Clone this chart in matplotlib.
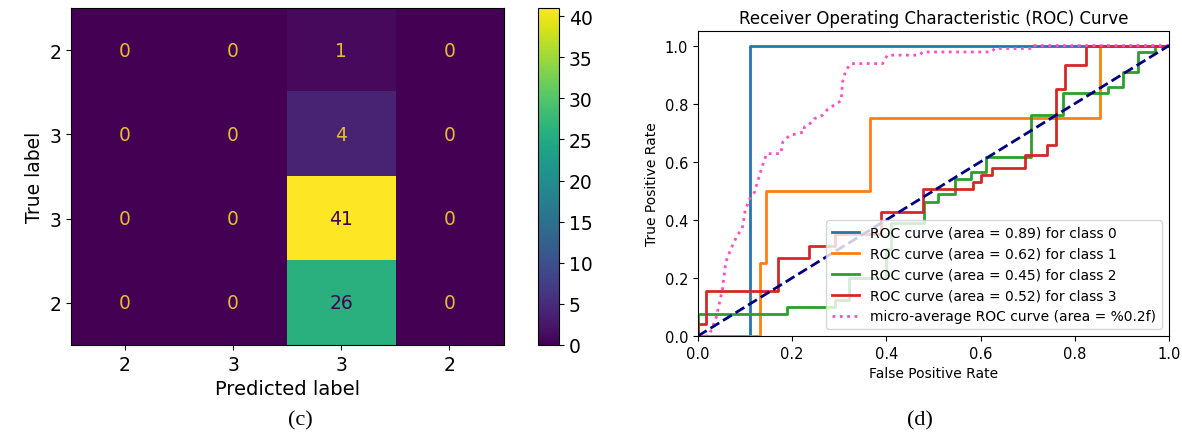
import matplotlib.pyplot as plt
import numpy as np

# confusion matrix (c)
cm = np.array([[0, 0, 1, 0],
               [0, 0, 4, 0],
               [0, 0, 41, 0],
               [0, 0, 26, 0]])
pred_labels = ["2", "3", "3", "2"]
true_labels = ["2", "3", "3", "2"]

# ROC curves (d)
fpr0 = [0, 0.11, 0.11, 1.0]
tpr0 = [0, 0, 1.0, 1.0]

fpr1 = [0, 0.132, 0.132, 0.145, 0.145, 0.366, 0.366, 0.853, 0.853, 1.0]
tpr1 = [0, 0, 0.25, 0.25, 0.5, 0.5, 0.75, 0.75, 1.0, 1.0]

fpr2 = [0, 0, 0.19, 0.19, 0.29, 0.29, 0.32, 0.32, 0.40, 0.40, 0.41, 0.41, 0.48, 0.48,
        0.51, 0.51, 0.546, 0.546, 0.58, 0.58, 0.612, 0.612, 0.708, 0.708, 0.775, 0.775,
        0.871, 0.871, 0.903, 0.903, 0.935, 0.935, 0.97, 0.97, 1.0]
tpr2 = [0, 0.075, 0.075, 0.10, 0.10, 0.125, 0.125, 0.20, 0.20, 0.30, 0.30, 0.39, 0.39, 0.46,
        0.46, 0.49, 0.49, 0.54, 0.54, 0.565, 0.565, 0.615, 0.615, 0.76, 0.76, 0.835,
        0.835, 0.857, 0.857, 0.91, 0.91, 0.978, 0.978, 1.0, 1.0]

fpr3 = [0, 0, 0.017, 0.017, 0.17, 0.17, 0.236, 0.236, 0.29, 0.29, 0.389, 0.389, 0.477, 0.477,
        0.584, 0.584, 0.60, 0.60, 0.625, 0.625, 0.694, 0.694, 0.74, 0.74, 0.76, 0.76,
        0.78, 0.78, 0.824, 0.824, 1.0]
tpr3 = [0, 0.04, 0.04, 0.156, 0.156, 0.27, 0.27, 0.31, 0.31, 0.35, 0.35, 0.427, 0.427, 0.507,
        0.507, 0.53, 0.53, 0.555, 0.555, 0.58, 0.58, 0.622, 0.622, 0.656, 0.656, 0.852,
        0.852, 0.932, 0.932, 1.0, 1.0]

fpr_micro = [0.0, 0.023, 0.038, 0.052, 0.059, 0.07, 0.083, 0.094, 0.10, 0.109, 0.12, 0.13,
             0.137, 0.146, 0.176, 0.18, 0.194, 0.226, 0.226, 0.243, 0.247, 0.264, 0.275,
             0.289, 0.304, 0.307, 0.314, 0.325, 0.392, 0.402, 0.47, 0.477, 0.623, 0.63,
             0.708, 0.71, 1.0]
tpr_micro = [0.0, 0.0, 0.06, 0.16, 0.255, 0.30, 0.346, 0.37, 0.43, 0.47, 0.495, 0.55,
             0.587, 0.628, 0.628, 0.668, 0.69, 0.703, 0.72, 0.737, 0.748, 0.76, 0.78,
             0.795, 0.81, 0.875, 0.915, 0.938, 0.938, 0.967, 0.967, 0.978, 0.978, 0.99,
             0.99, 1.0, 1.0]

areas = [0.89, 0.62, 0.45, 0.52]
colors = ["#1f77b4", "#ff7f0e", "#2ca02c", "#d62728"]

fig = plt.figure(figsize=(11.82, 4.35), dpi=100)

# --- (c) confusion matrix ---
ax1 = fig.add_axes([0.060, 0.2046, 0.366, 0.775])
cax = fig.add_axes([0.455, 0.2046, 0.0178, 0.775])
cmap = plt.get_cmap("viridis")
im = ax1.imshow(cm, cmap=cmap, vmin=0, vmax=cm.max(), aspect="auto")
thresh = (cm.max() + cm.min()) / 2.0
for i in range(cm.shape[0]):
    for j in range(cm.shape[1]):
        c = cmap(0.0) if cm[i, j] > thresh else "#e6bb35"
        ax1.text(j, i, str(cm[i, j]), ha="center", va="center", color=c, fontsize=13.5)
ax1.set_xticks(range(4))
ax1.set_xticklabels(pred_labels, fontsize=13.5)
ax1.set_yticks(range(4))
ax1.set_yticklabels(true_labels, fontsize=13.5)
ax1.set_xlabel("Predicted label", fontsize=14)
ax1.set_ylabel("True label", fontsize=13.5)
cb = fig.colorbar(im, cax=cax)
cb.set_ticks(range(0, 41, 5))
cb.ax.tick_params(labelsize=13.5)

# --- (d) ROC ---
ax2 = fig.add_axes([0.5905, 0.2253, 0.3985, 0.701])
fprs = [fpr0, fpr1, fpr2, fpr3]
tprs = [tpr0, tpr1, tpr2, tpr3]
for k in range(4):
    ax2.plot(fprs[k], tprs[k], color=colors[k], lw=2,
             label="ROC curve (area = %0.2f) for class %d" % (areas[k], k))
ax2.plot(fpr_micro, tpr_micro, color="#ff4dc4", linestyle=":", lw=2,
         label="micro-average ROC curve (area = %0.2f)")
ax2.plot([0, 1], [0, 1], color="navy", lw=2, linestyle="--")
ax2.set_xlim([0.0, 1.0])
ax2.set_ylim([0.0, 1.05])
ax2.tick_params(labelsize=10.5)
ax2.set_xlabel("False Positive Rate", fontsize=10)
ax2.set_ylabel("True Positive Rate", fontsize=10)
ax2.set_title("Receiver Operating Characteristic (ROC) Curve", fontsize=12)
ax2.legend(loc="lower right", fontsize=10)

fig.text(0.254, 0.032, "(c)", ha="center", va="center", fontsize=16, family="Liberation Serif")
fig.text(0.778, 0.032, "(d)", ha="center", va="center", fontsize=16, family="Liberation Serif")

fig.savefig("out.png", dpi=100)
